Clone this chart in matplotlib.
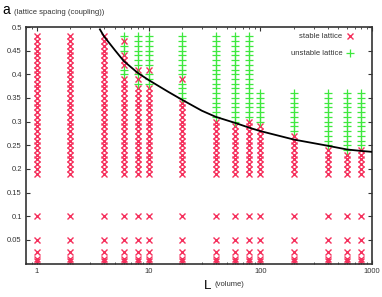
import matplotlib
matplotlib.use("Agg")
import matplotlib.pyplot as plt
from matplotlib.ticker import FixedLocator, LogLocator, NullFormatter, FixedFormatter

plt.rcParams['font.family'] = ['Liberation Sans', 'DejaVu Sans']

# --- data -------------------------------------------------------------
volumes = [1, 2, 4, 6, 8, 10, 20, 40, 60, 80, 100, 200, 400, 600, 800]

# couplings scanned densely (0.19 .. 0.48)
couplings = [0.19, 0.20, 0.21, 0.22, 0.23, 0.24, 0.25, 0.26, 0.27, 0.28,
             0.29, 0.30, 0.31, 0.32, 0.33, 0.34, 0.35, 0.36, 0.37, 0.38,
             0.39, 0.40, 0.41, 0.42, 0.43, 0.44, 0.45, 0.46, 0.47, 0.48]
# low couplings, all stable for every volume
low_couplings = [0.005, 0.01, 0.025, 0.05, 0.1]

# status per volume, one char per coupling (low -> high):
# S = stable, U = unstable, . = not simulated
status = {
    1:   "SSSSSSSSSSSSSSSSSSSSSSSSSSSSSS",
    2:   "SSSSSSSSSSSSSSSSSSSSSSSSSSSSSS",
    4:   "SSSSSSSSSSSSSSSSSSSSSSSSSSSSSS",
    6:   "SSSSSSSSSSSSSSSSSSSSSUUSSSUUSU",
    8:   "SSSSSSSSSSSSSSSSSSSUSUSUUUUUUU",
    10:  "SSSSSSSSSSSSSSSSSSSUUUSUUUUUUU",
    20:  "SSSSSSSSSSSSSSSSUUUUSUUUUUUUUU",
    40:  "SSSSSSSSSSSSUUUUUUUUUUUUUUUUUU",
    60:  "SSSSSSSSSSSUUUUUUUUUUUUUUUUUUU",
    80:  "SSSSSSSSSSSSUUUUUUUUUUUUUUUUUU",
    100: "SSSSSSSSSSSUUUUUUU............",
    200: "SSSSSSSSSUUUUUUUUU............",
    400: "SSSSSSUUUUUUUUUUUU............",
    600: "SSSSSUUUUUUUUUUUUU............",
    800: "SSSSSSUUUUUUUUUUUU............",
}

# stability boundary curve
curve_L = [3.67, 4, 5, 6, 8, 10, 15, 20, 30, 40, 60, 80, 100, 200, 400, 600, 800, 1000]
curve_g = [0.495, 0.48, 0.451, 0.428, 0.403, 0.388, 0.363, 0.346, 0.323, 0.310,
           0.297, 0.287, 0.280, 0.262, 0.249, 0.241, 0.238, 0.236]

ytick_vals = [0.05, 0.1, 0.15, 0.2, 0.25, 0.3, 0.35, 0.4, 0.45, 0.5]
ytick_labels = ["0.05", "0.1", "0.15", "0.2", "0.25", "0.3", "0.35", "0.4", "0.45", "0.5"]
xtick_vals = [1, 10, 100, 1000]
xtick_labels = ["1", "10", "100", "1000"]

# --- build point lists --------------------------------------------------
sx, sy, ux, uy = [], [], [], []
for L in volumes:
    for g in low_couplings:
        sx.append(L); sy.append(g)
    for g, c in zip(couplings, status[L]):
        if c == "S":
            sx.append(L); sy.append(g)
        elif c == "U":
            ux.append(L); uy.append(g)

red = "#f5305c"
green = "#3ee83e"
txt = "#333333"

fig = plt.figure(figsize=(3.82, 2.97), dpi=100)
ax = fig.add_axes([26/382, 1-263.5/297, 346/382, 236.5/297])

ax.plot(sx, sy, ls="none", marker="x", ms=4.8, mew=1.0, color=red,
        label="stable lattice", zorder=2, clip_on=False)
ax.plot(ux, uy, ls="none", marker="+", ms=5.4, mew=0.9, color=green,
        label="unstable lattice", zorder=3, clip_on=False)
ax.plot(curve_L, curve_g, color="black", lw=1.3, zorder=4)

ax.set_xscale("log")
ax.set_xlim(0.8, 1000)
ax.set_ylim(0.0, 0.5)

ax.xaxis.set_major_locator(FixedLocator(xtick_vals))
ax.xaxis.set_major_formatter(FixedFormatter(xtick_labels))
ax.xaxis.set_minor_locator(LogLocator(base=10, subs=range(2, 10)))
ax.xaxis.set_minor_formatter(NullFormatter())
ax.yaxis.set_major_locator(FixedLocator(ytick_vals))
ax.yaxis.set_major_formatter(FixedFormatter(ytick_labels))

ax.tick_params(which="both", direction="in", top=True, right=True,
               labelsize=5.5, labelcolor=txt, color=txt, pad=3)
ax.tick_params(which="major", length=3, width=0.8)
ax.tick_params(which="minor", length=1.5, width=0.6)
for s in ax.spines.values():
    s.set_color(txt)
    s.set_linewidth(1.2)

leg = ax.legend(loc="upper right", bbox_to_anchor=(0.965, 1.0), frameon=False,
                markerfirst=False, fontsize=5.5, labelspacing=1.25,
                handlelength=1.0, handletextpad=0.5, borderpad=0.3)
for t in leg.get_texts():
    t.set_color(txt)

fig.text(2/382, 1-10/297, "a", fontsize=10, color="black", va="center", ha="left")
fig.text(14/382, 1-12/297, "(lattice spacing (coupling))", fontsize=5.5, color=txt,
         va="center", ha="left")
fig.text(204/382, 1-286/297, "L", fontsize=9.5, color="black", va="center", ha="left")
fig.text(215/382, 1-285/297, "(volume)", fontsize=5.5, color=txt, va="center", ha="left")

fig.savefig("out.png", dpi=100)
